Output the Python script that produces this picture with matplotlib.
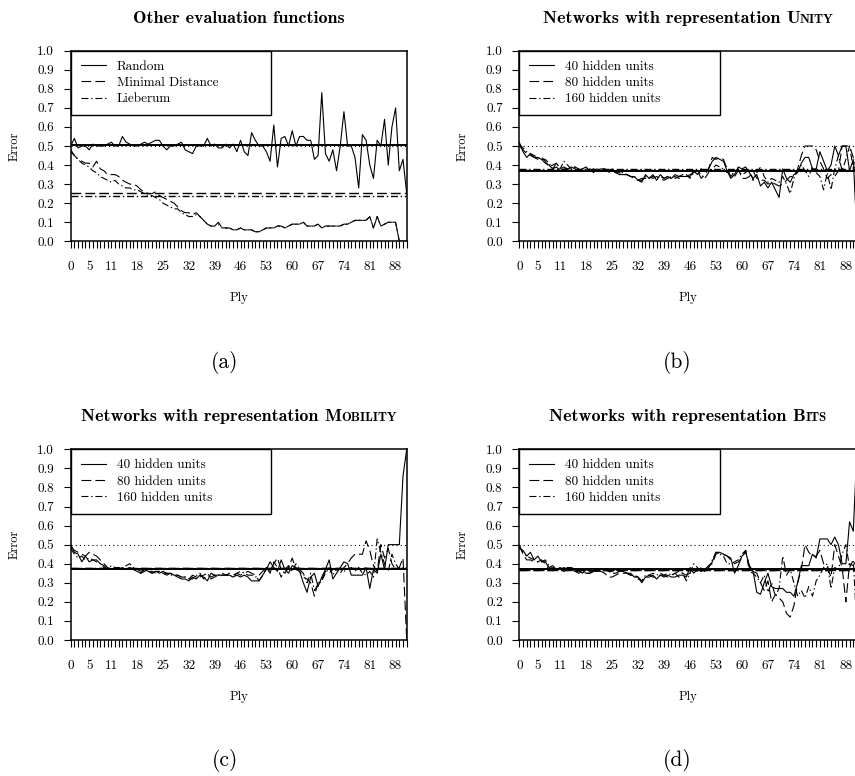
import numpy as np
import matplotlib
matplotlib.use('Agg')
import matplotlib.pyplot as plt
from matplotlib.offsetbox import TextArea, HPacker, AnchoredOffsetbox

# ply axis and tick labels
ply = np.arange(92)
xtick_labels = [0, 5, 11, 18, 25, 32, 39, 46, 53, 60, 67, 74, 81, 88]
yticks = [0.0, 0.1, 0.2, 0.3, 0.4, 0.5, 0.6, 0.7, 0.8, 0.9, 1.0]
baseline = 0.5

# (a) other evaluation functions
a_labels = ['Random', 'Minimal Distance', 'Lieberum']
a_random = [0.50, 0.54, 0.49, 0.50, 0.50, 0.48, 0.51, 0.50, 0.50, 0.50,
            0.51, 0.52, 0.50, 0.50, 0.55, 0.52, 0.51, 0.50, 0.50, 0.51,
            0.52, 0.51, 0.52, 0.53, 0.53, 0.50, 0.48, 0.50, 0.50, 0.51,
            0.52, 0.48, 0.47, 0.46, 0.50, 0.50, 0.50, 0.54, 0.50, 0.51,
            0.49, 0.49, 0.51, 0.49, 0.51, 0.47, 0.53, 0.47, 0.45, 0.57,
            0.53, 0.50, 0.50, 0.47, 0.42, 0.61, 0.39, 0.54, 0.55, 0.50,
            0.58, 0.50, 0.55, 0.55, 0.53, 0.53, 0.43, 0.45, 0.78, 0.46,
            0.42, 0.48, 0.37, 0.50, 0.68, 0.50, 0.50, 0.44, 0.28, 0.56,
            0.53, 0.40, 0.33, 0.53, 0.50, 0.64, 0.40, 0.60, 0.70, 0.37,
            0.43, 0.25]
a_mindist = [0.47, 0.45, 0.43, 0.42, 0.41, 0.41, 0.39, 0.42, 0.38, 0.37,
             0.35, 0.35, 0.35, 0.34, 0.32, 0.31, 0.30, 0.30, 0.29, 0.27,
             0.26, 0.25, 0.25, 0.26, 0.24, 0.23, 0.22, 0.21, 0.20, 0.18,
             0.16, 0.15, 0.15, 0.14, 0.15, 0.13, 0.11, 0.09, 0.08, 0.08,
             0.10, 0.07, 0.07, 0.07, 0.06, 0.06, 0.07, 0.06, 0.06, 0.06,
             0.05, 0.05, 0.06, 0.07, 0.07, 0.07, 0.08, 0.08, 0.07, 0.08,
             0.09, 0.09, 0.09, 0.10, 0.08, 0.08, 0.08, 0.09, 0.07, 0.08,
             0.08, 0.08, 0.08, 0.08, 0.09, 0.09, 0.10, 0.11, 0.11, 0.11,
             0.11, 0.13, 0.07, 0.13, 0.08, 0.09, 0.10, 0.10, 0.10, 0.00,
             0.00, 0.00]
a_lieberum = [0.48, 0.45, 0.43, 0.41, 0.40, 0.39, 0.37, 0.36, 0.34, 0.33,
              0.32, 0.31, 0.32, 0.30, 0.29, 0.28, 0.28, 0.27, 0.27, 0.26,
              0.25, 0.24, 0.24, 0.23, 0.22, 0.20, 0.19, 0.18, 0.17, 0.17,
              0.15, 0.14, 0.13, 0.13, 0.14, 0.13, 0.11, 0.09, 0.08, 0.08,
              0.09, 0.07, 0.07, 0.07, 0.06, 0.06, 0.07, 0.06, 0.06, 0.06,
              0.05, 0.05, 0.06, 0.07, 0.07, 0.07, 0.08, 0.08, 0.07, 0.08,
              0.09, 0.09, 0.09, 0.10, 0.08, 0.08, 0.08, 0.09, 0.07, 0.08,
              0.08, 0.08, 0.08, 0.08, 0.09, 0.09, 0.10, 0.11, 0.11, 0.11,
              0.11, 0.13, 0.07, 0.13, 0.08, 0.09, 0.10, 0.10, 0.10, 0.00,
              0.00, 0.00]
a_means = [0.503, 0.255, 0.237]

net_labels = ['40 hidden units', '80 hidden units', '160 hidden units']

# (b) representation Unity
b_40 = [0.52, 0.47, 0.44, 0.46, 0.44, 0.44, 0.43, 0.41, 0.40, 0.38,
        0.39, 0.37, 0.38, 0.38, 0.39, 0.38, 0.37, 0.38, 0.39, 0.37,
        0.37, 0.38, 0.37, 0.37, 0.37, 0.38, 0.36, 0.35, 0.35, 0.35,
        0.34, 0.34, 0.32, 0.31, 0.35, 0.33, 0.35, 0.32, 0.35, 0.33,
        0.34, 0.33, 0.35, 0.34, 0.34, 0.34, 0.34, 0.37, 0.35, 0.38,
        0.37, 0.38, 0.42, 0.44, 0.43, 0.42, 0.37, 0.33, 0.35, 0.39,
        0.38, 0.39, 0.36, 0.33, 0.35, 0.29, 0.31, 0.28, 0.31, 0.27,
        0.23, 0.38, 0.33, 0.31, 0.35, 0.36, 0.41, 0.44, 0.44, 0.38,
        0.38, 0.47, 0.42, 0.37, 0.40, 0.50, 0.45, 0.50, 0.50, 0.37,
        0.43, 0.03]
b_80 = [0.50, 0.48, 0.46, 0.45, 0.44, 0.43, 0.44, 0.42, 0.39, 0.40,
        0.41, 0.38, 0.39, 0.38, 0.38, 0.39, 0.38, 0.37, 0.38, 0.37,
        0.38, 0.37, 0.38, 0.38, 0.37, 0.37, 0.36, 0.36, 0.35, 0.35,
        0.34, 0.33, 0.32, 0.33, 0.33, 0.34, 0.33, 0.34, 0.33, 0.32,
        0.33, 0.34, 0.33, 0.34, 0.35, 0.34, 0.35, 0.36, 0.37, 0.33,
        0.35, 0.38, 0.44, 0.43, 0.44, 0.43, 0.38, 0.34, 0.36, 0.38,
        0.33, 0.33, 0.34, 0.37, 0.33, 0.32, 0.32, 0.30, 0.31, 0.30,
        0.29, 0.30, 0.32, 0.34, 0.34, 0.38, 0.45, 0.50, 0.50, 0.50,
        0.48, 0.42, 0.38, 0.33, 0.35, 0.34, 0.37, 0.50, 0.50, 0.50,
        0.44, 0.37]
b_160 = [0.51, 0.49, 0.47, 0.46, 0.45, 0.44, 0.43, 0.43, 0.41, 0.38,
         0.41, 0.38, 0.42, 0.40, 0.38, 0.39, 0.37, 0.38, 0.37, 0.38,
         0.36, 0.37, 0.37, 0.38, 0.36, 0.37, 0.37, 0.36, 0.36, 0.35,
         0.34, 0.34, 0.32, 0.32, 0.34, 0.33, 0.34, 0.33, 0.34, 0.33,
         0.34, 0.33, 0.34, 0.33, 0.34, 0.35, 0.33, 0.36, 0.37, 0.35,
         0.33, 0.36, 0.38, 0.40, 0.39, 0.38, 0.36, 0.37, 0.34, 0.37,
         0.35, 0.36, 0.38, 0.32, 0.36, 0.39, 0.34, 0.31, 0.33, 0.32,
         0.31, 0.34, 0.30, 0.25, 0.33, 0.37, 0.40, 0.37, 0.34, 0.39,
         0.36, 0.34, 0.27, 0.36, 0.27, 0.38, 0.45, 0.37, 0.43, 0.50,
         0.38, 0.40]
b_means = [0.367, 0.375, 0.378]

# (c) representation Mobility
c_40 = [0.50, 0.46, 0.45, 0.41, 0.44, 0.41, 0.42, 0.42, 0.40, 0.39,
        0.37, 0.37, 0.37, 0.38, 0.37, 0.37, 0.37, 0.37, 0.36, 0.35,
        0.37, 0.36, 0.35, 0.36, 0.35, 0.36, 0.35, 0.35, 0.34, 0.33,
        0.32, 0.32, 0.31, 0.33, 0.32, 0.34, 0.33, 0.31, 0.35, 0.34,
        0.34, 0.34, 0.34, 0.34, 0.33, 0.34, 0.33, 0.34, 0.33, 0.31,
        0.31, 0.31, 0.34, 0.37, 0.41, 0.38, 0.36, 0.42, 0.37, 0.35,
        0.39, 0.38, 0.36, 0.30, 0.25, 0.33, 0.35, 0.28, 0.33, 0.37,
        0.42, 0.32, 0.35, 0.38, 0.41, 0.40, 0.34, 0.34, 0.34, 0.34,
        0.38, 0.27, 0.37, 0.35, 0.45, 0.37, 0.50, 0.50, 0.50, 0.50,
        0.86, 1.00]
c_80 = [0.49, 0.47, 0.46, 0.45, 0.44, 0.46, 0.45, 0.44, 0.42, 0.40,
        0.38, 0.37, 0.38, 0.37, 0.38, 0.37, 0.38, 0.37, 0.36, 0.35,
        0.36, 0.37, 0.35, 0.36, 0.36, 0.35, 0.34, 0.35, 0.34, 0.34,
        0.33, 0.33, 0.32, 0.34, 0.33, 0.35, 0.32, 0.34, 0.33, 0.34,
        0.33, 0.34, 0.34, 0.35, 0.34, 0.35, 0.34, 0.35, 0.36, 0.35,
        0.34, 0.31, 0.34, 0.38, 0.36, 0.40, 0.43, 0.37, 0.35, 0.38,
        0.43, 0.37, 0.36, 0.33, 0.32, 0.30, 0.23, 0.30, 0.32, 0.36,
        0.35, 0.37, 0.37, 0.35, 0.38, 0.40, 0.43, 0.45, 0.45, 0.45,
        0.52, 0.47, 0.39, 0.36, 0.50, 0.43, 0.48, 0.40, 0.37, 0.38,
        0.43, 0.00]
c_160 = [0.48, 0.45, 0.43, 0.44, 0.42, 0.43, 0.42, 0.41, 0.40, 0.38,
         0.37, 0.39, 0.38, 0.38, 0.37, 0.39, 0.40, 0.38, 0.37, 0.36,
         0.37, 0.36, 0.36, 0.35, 0.36, 0.35, 0.35, 0.34, 0.34, 0.34,
         0.33, 0.33, 0.32, 0.32, 0.34, 0.33, 0.34, 0.35, 0.32, 0.33,
         0.34, 0.35, 0.34, 0.34, 0.33, 0.35, 0.36, 0.35, 0.34, 0.34,
         0.33, 0.34, 0.36, 0.38, 0.35, 0.41, 0.38, 0.33, 0.37, 0.39,
         0.36, 0.40, 0.37, 0.35, 0.30, 0.35, 0.26, 0.29, 0.31, 0.35,
         0.38, 0.34, 0.37, 0.37, 0.36, 0.37, 0.38, 0.36, 0.38, 0.35,
         0.34, 0.36, 0.33, 0.53, 0.46, 0.40, 0.36, 0.45, 0.40, 0.37,
         0.38, 0.37]
c_means = [0.370, 0.376, 0.377]

# (d) representation Bits
d_40 = [0.48, 0.47, 0.44, 0.46, 0.42, 0.44, 0.41, 0.41, 0.38, 0.39,
        0.37, 0.38, 0.37, 0.38, 0.38, 0.37, 0.37, 0.35, 0.37, 0.36,
        0.36, 0.36, 0.37, 0.37, 0.36, 0.36, 0.37, 0.36, 0.36, 0.35,
        0.35, 0.33, 0.33, 0.30, 0.33, 0.33, 0.34, 0.32, 0.34, 0.33,
        0.34, 0.33, 0.33, 0.34, 0.34, 0.33, 0.38, 0.35, 0.37, 0.36,
        0.37, 0.38, 0.41, 0.46, 0.46, 0.45, 0.44, 0.43, 0.35, 0.39,
        0.44, 0.46, 0.39, 0.36, 0.25, 0.24, 0.30, 0.35, 0.28, 0.27,
        0.27, 0.27, 0.25, 0.25, 0.23, 0.30, 0.39, 0.39, 0.39, 0.45,
        0.43, 0.53, 0.53, 0.53, 0.50, 0.54, 0.50, 0.40, 0.40, 0.62,
        0.57, 1.00]
d_80 = [0.50, 0.45, 0.42, 0.42, 0.41, 0.41, 0.42, 0.40, 0.37, 0.38,
        0.37, 0.37, 0.38, 0.37, 0.37, 0.36, 0.36, 0.36, 0.35, 0.35,
        0.36, 0.36, 0.36, 0.35, 0.33, 0.33, 0.34, 0.35, 0.35, 0.35,
        0.34, 0.34, 0.33, 0.31, 0.33, 0.34, 0.33, 0.33, 0.34, 0.34,
        0.33, 0.34, 0.35, 0.33, 0.35, 0.34, 0.35, 0.37, 0.36, 0.38,
        0.37, 0.39, 0.40, 0.45, 0.46, 0.45, 0.44, 0.42, 0.40, 0.41,
        0.43, 0.47, 0.38, 0.36, 0.35, 0.30, 0.26, 0.31, 0.20, 0.24,
        0.22, 0.20, 0.14, 0.12, 0.18, 0.30, 0.37, 0.50, 0.46, 0.44,
        0.44, 0.47, 0.40, 0.38, 0.33, 0.50, 0.44, 0.38, 0.20, 0.40,
        0.39, 0.43]
d_160 = [0.49, 0.46, 0.44, 0.43, 0.42, 0.41, 0.41, 0.42, 0.39, 0.37,
         0.37, 0.37, 0.36, 0.37, 0.38, 0.36, 0.35, 0.36, 0.35, 0.35,
         0.36, 0.36, 0.37, 0.37, 0.36, 0.35, 0.35, 0.36, 0.36, 0.35,
         0.34, 0.34, 0.32, 0.31, 0.34, 0.34, 0.35, 0.34, 0.35, 0.34,
         0.35, 0.34, 0.35, 0.36, 0.35, 0.31, 0.35, 0.40, 0.38, 0.36,
         0.36, 0.38, 0.42, 0.46, 0.45, 0.44, 0.40, 0.40, 0.41, 0.42,
         0.45, 0.47, 0.36, 0.35, 0.33, 0.30, 0.34, 0.25, 0.30, 0.23,
         0.27, 0.44, 0.34, 0.37, 0.30, 0.23, 0.26, 0.22, 0.28, 0.23,
         0.31, 0.34, 0.38, 0.40, 0.27, 0.38, 0.37, 0.45, 0.50, 0.38,
         0.42, 0.05]
d_means = [0.370, 0.366, 0.365]

plt.rcParams['font.family'] = 'cmr10'
plt.rcParams['axes.unicode_minus'] = False
plt.rcParams['lines.scale_dashes'] = False

# solid / dashed / dot-dash, as in the R plots
styles = ['-', (0, (7, 3)), (0, (5, 2, 1, 2))]
dotted = (0, (0.8, 2.2))

W, H = 855.0, 776.0
fig = plt.figure(figsize=(W / 100, H / 100), dpi=100)


def px_rect(left, top, right, bottom):
    return [left / W, 1 - bottom / H, (right - left) / W, (bottom - top) / H]


def add_title(ax, main, caps=None):
    parts = [TextArea(main, textprops=dict(family='cmb10', size=13))]
    if caps:
        #fake small caps: first letter full size, rest smaller
        parts.append(TextArea(caps[0], textprops=dict(family='cmb10', size=13)))
        parts.append(TextArea(caps[1:], textprops=dict(family='cmb10', size=9.3)))
    box = HPacker(children=parts, align='baseline', pad=0, sep=0)
    anchored = AnchoredOffsetbox(loc='center', child=box, pad=0, borderpad=0,
                                 frameon=False, bbox_to_anchor=(0.5, 1.17),
                                 bbox_transform=ax.transAxes)
    ax.add_artist(anchored)


def panel(rect, series, labels, means, title, caps, sub, sub_xy):
    ax = fig.add_axes(rect)
    lines = []
    for y, ls in zip(series, styles):
        l, = ax.plot(ply, y, color='black', lw=0.8, linestyle=ls)
        lines.append(l)
    #mean errors and the random baseline
    ax.axhline(baseline, color='black', lw=0.8, linestyle=dotted)
    for m, ls, w in zip(means, styles, [1.4, 1.0, 1.0]):
        ax.axhline(m, color='black', lw=w, linestyle=ls)
    ax.set_xlim(0, 91)
    ax.set_ylim(0, 1)
    ax.set_xticks(ply, [str(p) if p in xtick_labels else '' for p in ply])
    ax.set_yticks(yticks, ['%.1f' % v for v in yticks])
    ax.tick_params(direction='out', length=5, width=0.8, labelsize=9.5)
    ax.tick_params(axis='x', pad=9)
    ax.tick_params(axis='y', pad=7)
    for s in ax.spines.values():
        s.set_linewidth(1.1)
    ax.set_xlabel('Ply', fontsize=9)
    ax.xaxis.set_label_coords(0.5, -0.265)
    ax.set_ylabel('Error', fontsize=9)
    ax.yaxis.set_label_coords(-0.15, 0.5)
    leg = ax.legend(lines, labels, loc='upper left',
                    bbox_to_anchor=(0, 0.663, 0.595, 0.337), mode='expand',
                    borderaxespad=0, fancybox=False, edgecolor='black',
                    framealpha=1, fontsize=9.5, handlelength=1.9,
                    handletextpad=0.85, borderpad=0.75, labelspacing=0.3)
    leg.get_frame().set_linewidth(1.0)
    add_title(ax, title, caps)
    fig.text(sub_xy[0] / W, 1 - sub_xy[1] / H, sub, fontsize=15.5,
             ha='center', va='center')
    return ax


panel(px_rect(70.7, 50.7, 406.7, 241.3), [a_random, a_mindist, a_lieberum],
      a_labels, a_means, 'Other evaluation functions', None, '(a)', (225, 362))
panel(px_rect(519.3, 50.7, 857, 241.3), [b_40, b_80, b_160],
      net_labels, b_means, 'Networks with representation ', 'UNITY', '(b)', (677, 362))
panel(px_rect(70.7, 449.3, 406.7, 640), [c_40, c_80, c_160],
      net_labels, c_means, 'Networks with representation ', 'MOBILITY', '(c)', (225, 761))
panel(px_rect(519.3, 449.3, 857, 640), [d_40, d_80, d_160],
      net_labels, d_means, 'Networks with representation ', 'BITS', '(d)', (677, 761))

fig.savefig('out.png', dpi=100)
